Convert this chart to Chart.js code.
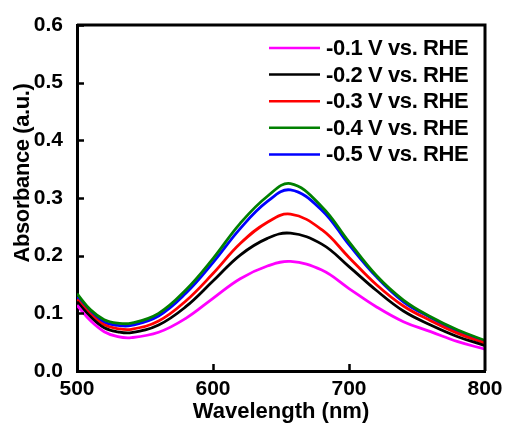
<!DOCTYPE html>
<html>
<head>
<meta charset="utf-8">
<script src="https://cdn.jsdelivr.net/npm/chart.js@4.4.0/dist/chart.umd.min.js"></script>
<style>
  html, body { margin: 0; padding: 0; background: #fff; }
  #wrap { width: 507px; height: 425px; }
</style>
</head>
<body>
<div id="wrap"><canvas id="absChart" width="507" height="425"></canvas></div>
<script>
// wavelength (nm) sample points
const wavelengths = [500, 510, 520, 530, 540, 560, 580, 600, 620, 640, 657, 680, 700, 720, 740, 760, 780, 800];

const seriesLabels = ["-0.1 V vs. RHE", "-0.2 V vs. RHE", "-0.3 V vs. RHE", "-0.4 V vs. RHE", "-0.5 V vs. RHE"];
const seriesColors = ["#ff00ff", "#000000", "#ff0000", "#008000", "#0000ff"];

const abs01 = [0.114, 0.087, 0.0682, 0.0595, 0.0578, 0.0671, 0.0913, 0.126, 0.160, 0.182, 0.190, 0.175, 0.143, 0.1115, 0.0855, 0.0682, 0.0508, 0.038];
const abs02 = [0.120, 0.094, 0.0751, 0.0680, 0.0665, 0.0798, 0.1115, 0.156, 0.201, 0.230, 0.239, 0.220, 0.181, 0.140, 0.104, 0.0798, 0.0595, 0.044];
const abs03 = [0.124, 0.098, 0.080, 0.0735, 0.0723, 0.0867, 0.1214, 0.169, 0.221, 0.258, 0.272, 0.245, 0.197, 0.150, 0.1127, 0.0873, 0.0653, 0.048];
const abs04 = [0.134, 0.106, 0.089, 0.0830, 0.0830, 0.100, 0.1405, 0.195, 0.256, 0.303, 0.325, 0.285, 0.224, 0.166, 0.123, 0.094, 0.071, 0.053];
const abs05 = [0.128, 0.102, 0.0845, 0.0790, 0.0790, 0.0954, 0.1347, 0.188, 0.247, 0.294, 0.314, 0.279, 0.219, 0.1636, 0.120, 0.0925, 0.069, 0.051];

const xTicks = [500, 600, 700, 800];
const yTicks = [0, 0.1, 0.2, 0.3, 0.4, 0.5, 0.6];

const allSeries = [abs01, abs02, abs03, abs04, abs05];
const FONT = "'Liberation Sans', Arial, sans-serif";

// frame on top/right plus inward tick marks
const framePlugin = {
  id: "frame",
  afterDatasetsDraw(chart) {
    const { ctx, chartArea: a, scales } = chart;
    ctx.save();
    ctx.strokeStyle = "#000";
    ctx.lineWidth = 3;
    ctx.beginPath();
    ctx.moveTo(a.left, a.top);
    ctx.lineTo(a.right, a.top);
    ctx.lineTo(a.right, a.bottom);
    ctx.stroke();
    ctx.lineWidth = 2.5;
    ctx.beginPath();
    yTicks.forEach(v => {
      const y = Math.round(scales.y.getPixelForValue(v)) + 0.5;
      ctx.moveTo(a.left, y);
      ctx.lineTo(a.left + 7, y);
    });
    xTicks.slice(1, -1).forEach(v => {
      const x = Math.round(scales.x.getPixelForValue(v)) + 0.5;
      ctx.moveTo(x, a.bottom);
      ctx.lineTo(x, a.bottom - 7);
    });
    ctx.stroke();
    ctx.restore();
  }
};

// legend inside the plot, top right
const legendPlugin = {
  id: "insideLegend",
  afterDraw(chart) {
    const { ctx } = chart;
    ctx.save();
    ctx.font = "bold 22px " + FONT;
    ctx.letterSpacing = "-0.4px";
    ctx.textBaseline = "middle";
    ctx.fillStyle = "#000";
    chart.data.datasets.forEach((ds, i) => {
      const y = 48 + i * 26.6;
      ctx.strokeStyle = ds.borderColor;
      ctx.lineWidth = 2.5;
      ctx.beginPath();
      ctx.moveTo(269, y);
      ctx.lineTo(320, y);
      ctx.stroke();
      ctx.fillText(ds.label, 326, y + 1);
    });
    ctx.restore();
  }
};

// y axis title sits a bit above the middle in the original
const yTitlePlugin = {
  id: "yTitle",
  afterDraw(chart) {
    const { ctx } = chart;
    ctx.save();
    ctx.font = "bold 22px " + FONT;
    ctx.letterSpacing = "-0.4px";
    ctx.fillStyle = "#000";
    ctx.textAlign = "center";
    ctx.textBaseline = "middle";
    ctx.translate(23, 173);
    ctx.rotate(-Math.PI / 2);
    ctx.fillText("Absorbance (a.u.)", 0, 0);
    ctx.restore();
  }
};

const ctx = document.getElementById("absChart").getContext("2d");

new Chart(ctx, {
  type: "line",
  data: {
    datasets: allSeries.map((vals, i) => ({
      label: seriesLabels[i],
      data: wavelengths.map((w, j) => ({ x: w, y: vals[j] })),
      borderColor: seriesColors[i],
      borderWidth: 2.8,
      pointRadius: 0,
      fill: false,
      tension: 0.4
    }))
  },
  options: {
    responsive: false,
    animation: false,
    devicePixelRatio: 1,
    layout: { padding: { top: 25, right: 22, left: 0, bottom: 0 } },
    plugins: {
      legend: { display: false },
      tooltip: { enabled: false }
    },
    scales: {
      x: {
        type: "linear",
        min: 500,
        max: 800,
        afterBuildTicks: s => { s.ticks = xTicks.map(v => ({ value: v })); },
        afterFit: s => { s.height = 54; },
        grid: { display: false },
        border: { display: true, color: "#000", width: 3 },
        ticks: {
          color: "#000",
          font: { family: FONT, size: 21, weight: "bold" },
          padding: -2,
          maxRotation: 0
        },
        title: {
          display: true,
          text: "Wavelength (nm)",
          color: "#000",
          font: { family: FONT, size: 22, weight: "bold" },
          padding: { top: 0, bottom: 0 }
        }
      },
      y: {
        min: 0,
        max: 0.6,
        afterBuildTicks: s => { s.ticks = yTicks.map(v => ({ value: v })); },
        afterFit: s => { s.width = 77; },
        grid: { display: false },
        border: { display: true, color: "#000", width: 3 },
        ticks: {
          color: "#000",
          font: { family: FONT, size: 21, weight: "bold" },
          padding: 6,
          callback: v => v.toFixed(1)
        }
      }
    }
  },
  plugins: [framePlugin, legendPlugin, yTitlePlugin]
});
</script>
</body>
</html>
